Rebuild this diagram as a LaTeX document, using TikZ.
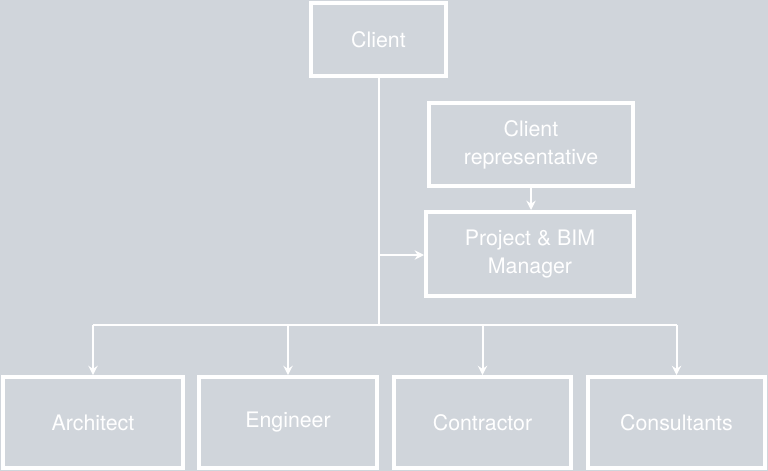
\documentclass[tikz,border=0pt]{standalone}
\usepackage{fontspec}
\setmainfont{TeX Gyre Heros}
\usetikzlibrary{arrows.meta}
\definecolor{bg}{RGB}{208,213,219}
\begin{document}
\begin{tikzpicture}[x=0.75pt,y=-0.75pt,
  box/.style={draw=white,line width=3pt,text=white,align=center,inner sep=0pt,font=\fontsize{16}{21}\selectfont},
  conn/.style={draw=white,line width=1.5pt},
  arr/.style={conn,-{Stealth[length=7pt,width=7pt]}}]
\fill[bg] (0,0) rectangle (768,471);
\useasboundingbox (0,0) rectangle (768,471);
\node[box,minimum width=101pt,minimum height=55pt] (client) at (378.5,39.5) {Client};
\node[box,minimum width=153pt,minimum height=62pt] (rep) at (531,144.5) {Client\\representative};
\node[box,minimum width=156pt,minimum height=63pt] (pm) at (530,254) {Project \& BIM\\Manager};
\node[box,minimum width=135pt,minimum height=68pt] (arch) at (93,422.5) {Architect};
\node[box,minimum width=133pt,minimum height=68pt] (eng) at (288,422.5) {Engineer};
\node[box,minimum width=133pt,minimum height=68pt] (con) at (482.5,422.5) {Contractor};
\node[box,minimum width=133pt,minimum height=68pt] (cons) at (676.5,422.5) {Consultants};
\coordinate (j) at (379,325);
\coordinate (m) at (379,255);
\draw[conn] (client.south -| j) -- (j);
\draw[arr] (m) -- (pm.west |- m);
\draw[arr] (rep.south) -- (pm.north -| rep.south);
\draw[conn] (arch.north |- j) -- (cons.north |- j);
\foreach \n in {arch,eng,con,cons} \draw[arr] (\n.north |- j) -- (\n.north);
\end{tikzpicture}
\end{document}
